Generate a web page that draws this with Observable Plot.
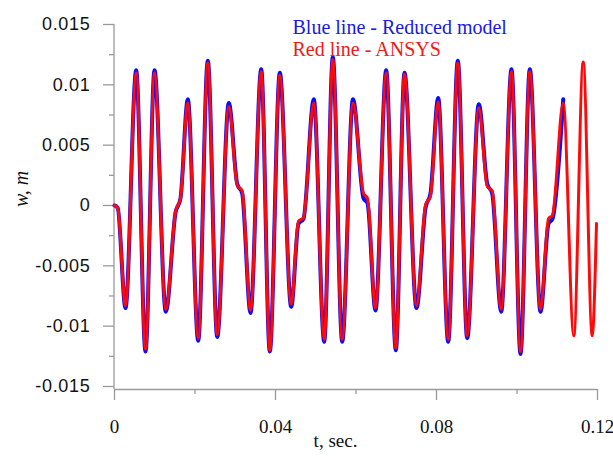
<!DOCTYPE html>
<html>
<head>
<meta charset="utf-8">
<script src="https://cdn.jsdelivr.net/npm/d3@7"></script>
<script src="https://cdn.jsdelivr.net/npm/@observablehq/plot@0.6"></script>
<style>
  html, body { margin: 0; padding: 0; background: #fff; }
  #chart svg { display: block; }
  g[aria-label="y-axis tick label"] text { font-family: "Liberation Sans", Arial, sans-serif; font-size: 18px; letter-spacing: 0.7px; fill: #111; }
  g[aria-label="x-axis tick label"] text { font-family: "Liberation Serif", "Times New Roman", serif; font-size: 19px; fill: #111; }
</style>
</head>
<body>
<div id="chart"></div>
<script>
// Time samples (s) and deflection w (m)
const tBlue = [0, 0.0008, 0.00273, 0.00539, 0.00770, 0.00994, 0.01275, 0.01516, 0.01640, 0.01821,
  0.02080, 0.02318, 0.02552, 0.02840, 0.03048, 0.03173, 0.03379, 0.03645, 0.03858, 0.04107,
  0.04390, 0.04571, 0.04696, 0.04951, 0.05210, 0.05424, 0.05657, 0.05925, 0.06186, 0.06286,
  0.06484, 0.06750, 0.06989, 0.07205, 0.07503, 0.07727, 0.07851, 0.08042, 0.08291, 0.08529,
  0.08763, 0.09051, 0.09260, 0.09384, 0.09607, 0.09863, 0.10087, 0.10318, 0.10584, 0.10783,
  0.10882, 0.11148];
const wBlue = [0, -0.0002, -0.0085, 0.0112, -0.0121, 0.0112, -0.0088, -0.0006, 0.0006, 0.0088,
  -0.0112, 0.0120, -0.0109, 0.0085, 0.0018, 0.0010, -0.0089, 0.0113, -0.0121, 0.0110,
  -0.0084, -0.0015, -0.0011, 0.0088, -0.0113, 0.0123, -0.0113, 0.0088, 0.0006, 0.0002,
  -0.0087, 0.0112, -0.0120, 0.0110, -0.0085, -0.0002, 0.0010, 0.0089, -0.0113, 0.0120,
  -0.0110, 0.0084, 0.0018, 0.0010, -0.0088, 0.0113, -0.0123, 0.0113, -0.0088, -0.0015,
  -0.0011, 0.0088];
const tRed = [0, 0.0008, 0.00273, 0.00539, 0.00770, 0.00994, 0.01275, 0.01516, 0.01640, 0.01821,
  0.02080, 0.02318, 0.02552, 0.02840, 0.03048, 0.03173, 0.03379, 0.03645, 0.03858, 0.04107,
  0.04390, 0.04571, 0.04696, 0.04951, 0.05210, 0.05424, 0.05657, 0.05925, 0.06186, 0.06286,
  0.06484, 0.06750, 0.06989, 0.07205, 0.07503, 0.07727, 0.07851, 0.08042, 0.08291, 0.08529,
  0.08763, 0.09051, 0.09260, 0.09384, 0.09607, 0.09863, 0.10087, 0.10318, 0.10584, 0.10783,
  0.10882, 0.11148, 0.11411, 0.11645, 0.11868, 0.11975];
const wRed = [0, -0.0002, -0.0083, 0.0110, -0.0119, 0.0110, -0.0086, -0.0005, 0.0006, 0.0085,
  -0.0110, 0.0118, -0.0107, 0.0082, 0.0017, 0.0012, -0.0087, 0.0111, -0.0120, 0.0108,
  -0.0082, -0.0013, -0.0010, 0.0085, -0.0111, 0.0121, -0.0111, 0.0085, 0.0010, 0.0006,
  -0.0085, 0.0110, -0.0118, 0.0109, -0.0083, 0.0000, 0.0008, 0.0086, -0.0111, 0.0118,
  -0.0108, 0.0081, 0.0016, 0.0012, -0.0086, 0.0111, -0.0121, 0.0111, -0.0086, -0.0011,
  -0.0008, 0.0085, -0.0108, 0.0119, -0.0108, -0.0015];

const xDomain = [0, 0.12];
const yDomain = [-0.01525, 0.015];
const xMajor = [0, 0.04, 0.08, 0.12];
const xMajorLabels = ["0", "0.04", "0.08", "0.12"];
const xMinor = [0.02, 0.06, 0.10];
const yMajor = [-0.015, -0.01, -0.005, 0, 0.005, 0.01, 0.015];
const yMajorLabels = ["-0.015", "-0.01", "-0.005", "0", "0.005", "0.01", "0.015"];
const yMinor = [-0.0125, -0.0075, -0.0025, 0.0025, 0.0075, 0.0125];
const legendLabels = ["Blue line - Reduced model", "Red line - ANSYS"];
const xLabel = "t, sec.";
const yLabel = "w, m";

const blue = tBlue.map((t, i) => ({t, w: wBlue[i]}));
const red = tRed.map((t, i) => ({t, w: wRed[i]}));

const axisColor = "#9a9a9a";

const chart = Plot.plot({
  width: 613,
  height: 456,
  marginLeft: 114,
  marginRight: 16,
  marginTop: 24,
  marginBottom: 67,
  style: {background: "#fff", overflow: "visible"},
  x: {domain: xDomain},
  y: {domain: yDomain},
  marks: [
    Plot.ruleX([xDomain[0]], {dx: -0.5, stroke: axisColor, strokeWidth: 1.3}),
    Plot.ruleY([yDomain[0]], {stroke: axisColor, strokeWidth: 1.3}),
    Plot.axisY({ticks: yMajor, tickSize: 11, tickPadding: 13, stroke: axisColor, strokeWidth: 1.3,
      tickFormat: d => yMajorLabels[yMajor.indexOf(d)], label: null}),
    Plot.axisY({ticks: yMinor, tickSize: 5, stroke: axisColor, strokeWidth: 1.3, tickFormat: () => "", label: null}),
    Plot.axisX({ticks: xMajor, tickSize: 11, tickPadding: 19, stroke: axisColor, strokeWidth: 1.3,
      tickFormat: d => xMajorLabels[xMajor.indexOf(d)], label: null}),
    Plot.axisX({ticks: xMinor, tickSize: 5, stroke: axisColor, strokeWidth: 1.3, tickFormat: () => "", label: null}),
    Plot.line(blue, {x: "t", y: "w", stroke: "#0a0aff", strokeWidth: 4, curve: "monotone-x"}),
    Plot.line(red, {x: "t", y: "w", stroke: "#ff0a0a", strokeWidth: 3, curve: "monotone-x"}),
    Plot.text([legendLabels[0]], {frameAnchor: "top", textAnchor: "start", dx: -63.5, dy: -4.4,
      fill: "#1a1ae0", fontSize: 20, fontFamily: "Liberation Serif"}),
    Plot.text([legendLabels[1]], {frameAnchor: "top", textAnchor: "start", dx: -63.5, dy: 17.6,
      fill: "#ee1a1a", fontSize: 20, fontFamily: "Liberation Serif"}),
    Plot.text([xLabel], {frameAnchor: "bottom", dx: -20.5, dy: 57, fill: "#111",
      fontSize: 19, fontFamily: "Liberation Serif"}),
    Plot.text([yLabel], {frameAnchor: "left", rotate: -90, dx: -93, dy: 0, fill: "#111",
      fontSize: 20, fontStyle: "italic", fontFamily: "Liberation Serif"})
  ]
});
document.getElementById("chart").appendChild(chart);
</script>
</body>
</html>
